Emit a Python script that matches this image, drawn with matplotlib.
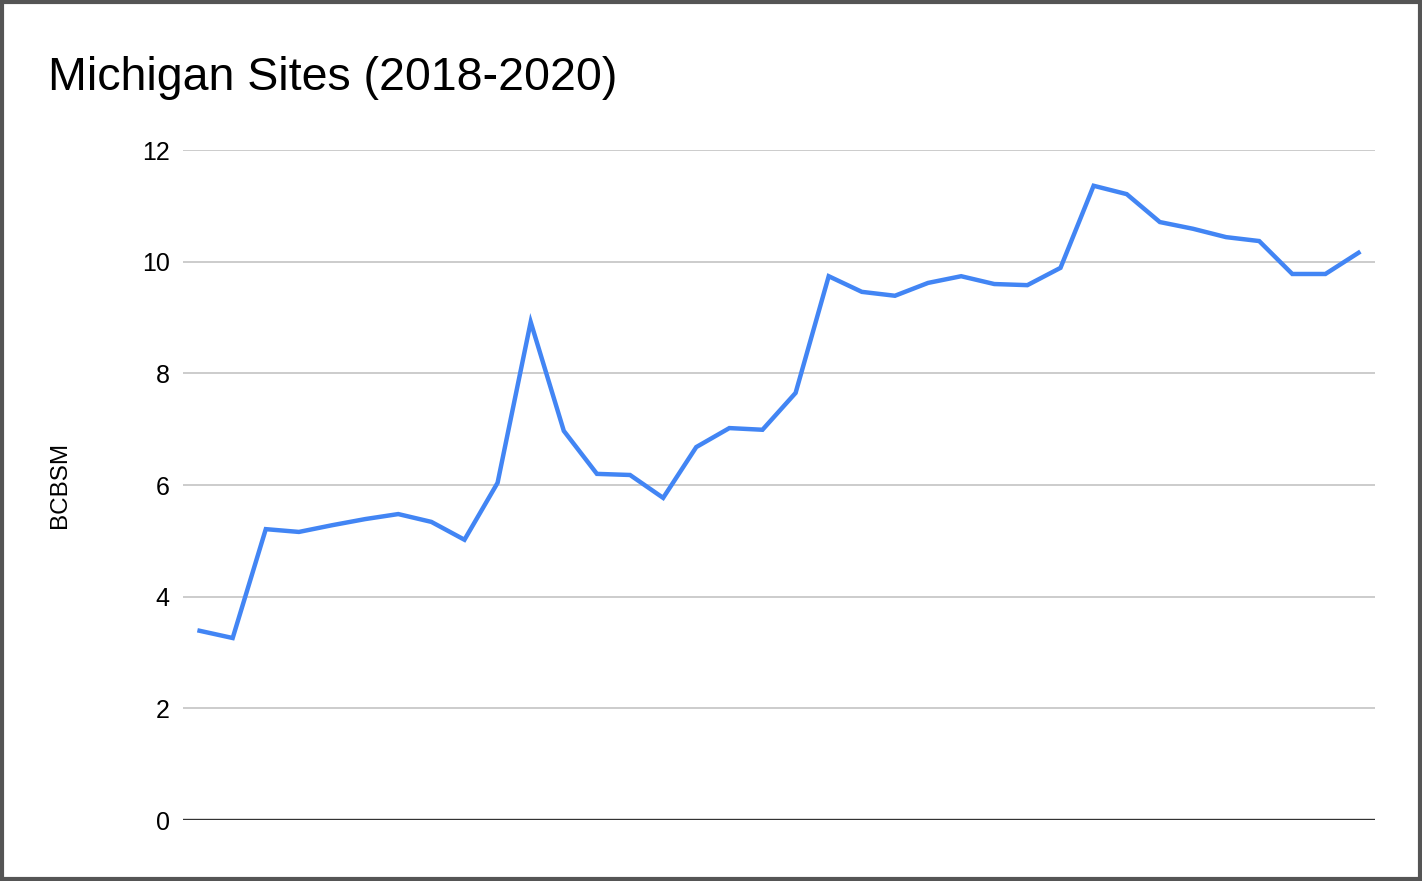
import matplotlib

matplotlib.use("Agg")
import matplotlib.pyplot as plt
from matplotlib.patches import Rectangle

plt.rcParams["font.family"] = ["Liberation Sans", "DejaVu Sans"]

# Datos mensuales 2018-2020 (36 meses)
meses = list(range(36))
bcbsm = [
    3.39, 3.26, 5.21, 5.16, 5.28, 5.39, 5.48, 5.34, 5.02, 6.04, 8.92, 6.97,
    6.20, 6.18, 5.77, 6.68, 7.02, 6.99, 7.65, 9.74, 9.46, 9.39, 9.62, 9.74,
    9.60, 9.58, 9.89, 11.36, 11.21, 10.71, 10.59, 10.44, 10.37, 9.78, 9.78, 10.16,
]
yticks = [0, 2, 4, 6, 8, 10, 12]

AZUL = "#4285f4"
GRIS = "#cccccc"

fig = plt.figure(figsize=(14.22, 8.81), dpi=100)
ax = fig.add_axes([0.1287, 0.0692, 0.8383, 0.7605])

ax.plot(meses, bcbsm, color=AZUL, lw=3.2, solid_joinstyle="miter", zorder=3)

ax.set_xlim(-0.5, 35.5)
ax.set_ylim(0, 12)
ax.set_yticks(yticks)
ax.set_yticklabels([str(v) for v in yticks], fontsize=18)
ax.set_xticks([])
ax.tick_params(axis="y", length=0, pad=9.5)
for v in yticks[1:]:
    ax.axhline(v, color=GRIS, lw=1.4, zorder=1)
ax.axhline(0, color="#333333", lw=1.7, zorder=2)
for s in ax.spines.values():
    s.set_visible(False)
ax.set_ylabel("BCBSM", fontsize=17.5)
ax.yaxis.set_label_coords(-0.094, 0.5)

fig.text(0.0338, 0.912, "Michigan Sites (2018-2020)", fontsize=33.5, ha="left", va="center")

# marco exterior
fig.patches.append(Rectangle((0.0015, 0.002), 0.997, 0.996, transform=fig.transFigure,
                             fill=False, edgecolor="#555555", lw=3))

fig.savefig("out.png", dpi=100)
